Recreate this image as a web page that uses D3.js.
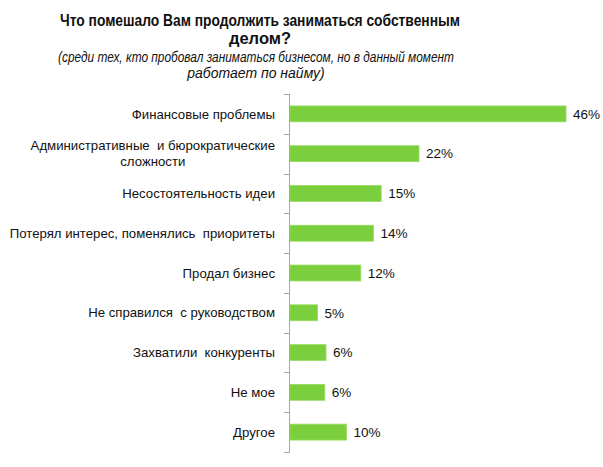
<!DOCTYPE html>
<html>
<head>
    <meta charset="utf-8">
    <style>
        body { margin: 0; background: white; }
        svg { font-family: Arial, 'Liberation Sans', sans-serif; }
    </style>
</head>
<body>
    <svg width="603" height="467" id="chart"></svg>
<script src="https://d3js.org/d3.v7.min.js"></script>
<script>
    // data
    const categories = [
        "Финансовые проблемы",
        "Административные  и бюрократические\nсложности",
        "Несостоятельность идеи",
        "Потерял интерес, поменялись  приоритеты",
        "Продал бизнес",
        "Не справился  с руководством",
        "Захватили  конкуренты",
        "Не мое",
        "Другое"
    ]
    const values = [46, 21.5, 15.2, 13.9, 11.8, 4.6, 6.0, 5.8, 9.4]
    const valueLabels = ["46%", "22%", "15%", "14%", "12%", "5%", "6%", "6%", "10%"]

    const titleLines = ["Что помешало Вам продолжить заниматься собственным", "делом?"]
    const subtitleLines = ["(среди тех, кто пробовал заниматься бизнесом, но в данный момент", "работает по найму)"]

    let svg = d3.select("#chart")

    let margin = { top: 94, left: 290, bottom: 15 }

    let x = d3.scaleLinear()
        .domain([0, 46])
        .range([margin.left, margin.left + 276])

    let y = d3.scaleBand()
        .domain(d3.range(categories.length))
        .range([margin.top, 467 - margin.bottom])
        .paddingInner(0.6)
        .paddingOuter(0.3)

    // bars
    svg.append("g")
        .selectAll("rect")
        .data(values)
        .join("rect")
        .attr("x", x(0))
        .attr("y", (d, i) => y(i))
        .attr("width", d => x(d) - x(0))
        .attr("height", y.bandwidth())
        .style("fill", "#7ccf3c")
        .style("stroke", "#98dc62")
        .style("stroke-width", 0.8)

    // value labels
    svg.append("g")
        .selectAll("text")
        .data(values)
        .join("text")
        .attr("x", d => x(d) + 7)
        .attr("y", (d, i) => y(i) + y.bandwidth() / 2)
        .attr("dy", "0.35em")
        .text((d, i) => valueLabels[i])
        .style("font-size", "13.5px")
        .style("fill", "#111")

    // axis with ticks between categories
    let step = y.step()
    let axis = svg.append("g").style("stroke", "#a6a6a6").style("stroke-width", 1)
    axis.append("line")
        .attr("x1", x(0) - 0.5).attr("x2", x(0) - 0.5)
        .attr("y1", margin.top).attr("y2", 467 - margin.bottom + 1)
    axis.selectAll(".tick")
        .data(d3.range(categories.length + 1))
        .join("line")
        .attr("class", "tick")
        .attr("x1", x(0) - 6).attr("x2", x(0))
        .attr("y1", i => Math.round(y(0) - y.paddingOuter() * step + i * step) + 0.5)
        .attr("y2", i => Math.round(y(0) - y.paddingOuter() * step + i * step) + 0.5)

    // category labels
    let labels = svg.append("g")
        .selectAll("text")
        .data(categories)
        .join("text")
        .attr("text-anchor", "middle")
        .style("font-size", "13.2px")
        .style("fill", "#111")
        .style("white-space", "pre")

    labels.each(function (d, i) {
        let lines = d.split("\n")
        let t = d3.select(this)
        let cy = y(i) + y.bandwidth() / 2
        let tspans = lines.map((line, j) => t.append("tspan")
            .attr("y", cy + (j - (lines.length - 1) / 2) * 16)
            .attr("dy", "0.35em")
            .text(line))
        // right align the block, center the lines inside it
        let w = d3.max(tspans, s => s.node().getComputedTextLength())
        tspans.forEach(s => s.attr("x", 275 - w / 2))
    })

    // squeeze a line to the width it has in the picture
    function fitWidth(sel, maxW) {
        sel.each(function () {
            if (this.getComputedTextLength() > maxW) {
                d3.select(this).attr("textLength", maxW).attr("lengthAdjust", "spacingAndGlyphs")
            }
        })
    }

    // title
    svg.append("text")
        .attr("text-anchor", "middle")
        .style("font-size", "16.5px")
        .style("font-weight", "bold")
        .style("fill", "#111")
        .selectAll("tspan")
        .data(titleLines)
        .join("tspan")
        .attr("x", 260)
        .attr("y", (d, i) => 26 + i * 18)
        .text(d => d)
        .call(fitWidth, 400)

    svg.append("text")
        .attr("text-anchor", "middle")
        .style("font-size", "14px")
        .style("font-style", "italic")
        .style("fill", "#111")
        .selectAll("tspan")
        .data(subtitleLines)
        .join("tspan")
        .attr("x", 256)
        .attr("y", (d, i) => 62 + i * 16)
        .text(d => d)
        .call(fitWidth, 396)
</script>
</body>
</html>
